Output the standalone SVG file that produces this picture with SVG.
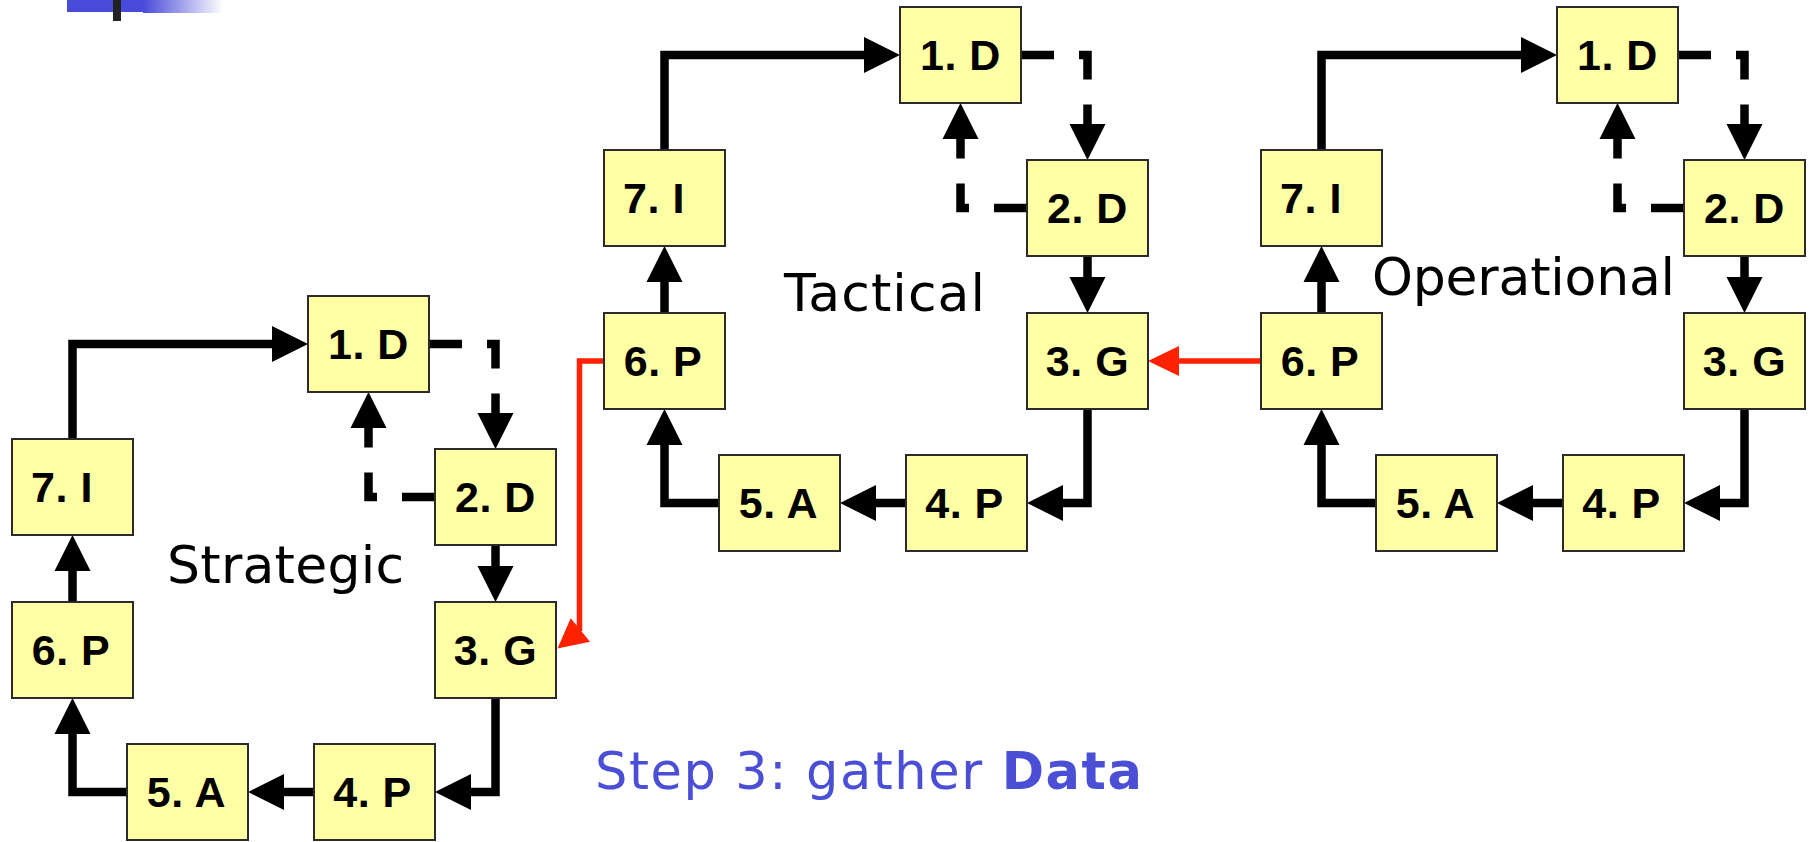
<svg xmlns="http://www.w3.org/2000/svg" width="1809" height="842" viewBox="0 0 1809 842">
  <defs>
    <style>
      .box { fill: #FFFFA6; stroke: #2b2b2b; stroke-width: 2; }
      .lbl { font-family: "Liberation Sans", Arial, sans-serif; font-weight: bold; font-size: 43px; letter-spacing: 0.5px; text-anchor: middle; fill: #000; }
      .conn { fill: none; stroke: #000; stroke-width: 8.5; stroke-linejoin: miter; stroke-linecap: butt; marker-end: url(#ah); }
      .dash { stroke-dasharray: 33 25; }
      .red { fill: none; stroke: #FF2200; stroke-width: 5.5; stroke-linejoin: miter; }
      .title { font-family: "DejaVu Sans", Verdana, sans-serif; font-size: 52px; fill: #000; }
      .step { font-family: "DejaVu Sans", Verdana, sans-serif; font-size: 51px; fill: #4A4FD6; }
    </style>
    <marker id="ah" markerUnits="userSpaceOnUse" markerWidth="36" markerHeight="36" viewBox="0 -18 36 36" refX="0" refY="0" orient="auto" overflow="visible">
      <path d="M0,-18 L36,0 L0,18 z" fill="#000"/>
    </marker>
    <linearGradient id="fade" x1="143" y1="0" x2="223" y2="0" gradientUnits="userSpaceOnUse">
      <stop offset="0" stop-color="#484AD8"/>
      <stop offset="1" stop-color="#484AD8" stop-opacity="0"/>
    </linearGradient>
  </defs>

  <rect width="1809" height="842" fill="#fff"/>

  <!-- top-left decoration -->
  <g id="decoration">
    <rect x="67" y="0" width="77" height="12" fill="#484AD8"/>
    <rect x="143" y="0" width="80" height="13" fill="url(#fade)"/>
    <rect x="113" y="0" width="8" height="21" fill="#222"/>
  </g>

  <!-- connectors -->
  <g id="connectors">
    <g id="strategic-connectors">
      <path class="conn" d="M72.5,439 V344 H272"/>
      <path class="conn dash" d="M429,344 H495.5 V413"/>
      <path class="conn dash" d="M435,497 H368.5 V428"/>
      <path class="conn" d="M495.5,545 V566"/>
      <path class="conn" d="M495.5,698 V792 H471"/>
      <path class="conn" d="M314,792 H284"/>
      <path class="conn" d="M127,792 H72.5 V734"/>
      <path class="conn" d="M72.5,602 V571"/>
    </g>
    <g id="tactical-connectors" transform="translate(592,-289)">
      <path class="conn" d="M72.5,439 V344 H272"/>
      <path class="conn dash" d="M429,344 H495.5 V413"/>
      <path class="conn dash" d="M435,497 H368.5 V428"/>
      <path class="conn" d="M495.5,545 V566"/>
      <path class="conn" d="M495.5,698 V792 H471"/>
      <path class="conn" d="M314,792 H284"/>
      <path class="conn" d="M127,792 H72.5 V734"/>
      <path class="conn" d="M72.5,602 V571"/>
    </g>
    <g id="operational-connectors" transform="translate(1249,-289)">
      <path class="conn" d="M72.5,439 V344 H272"/>
      <path class="conn dash" d="M429,344 H495.5 V413"/>
      <path class="conn dash" d="M435,497 H368.5 V428"/>
      <path class="conn" d="M495.5,545 V566"/>
      <path class="conn" d="M495.5,698 V792 H471"/>
      <path class="conn" d="M314,792 H284"/>
      <path class="conn" d="M127,792 H72.5 V734"/>
      <path class="conn" d="M72.5,602 V571"/>
    </g>
    <g id="red-links">
      <path class="red" d="M604,361 H579.5 V631"/>
      <polygon points="557.5,648.5 570.7,618.3 590,641.7" fill="#FF2200"/>
      <path class="red" d="M1261,361 H1178"/>
      <polygon points="1148,361 1179,346 1179,376" fill="#FF2200"/>
    </g>
  </g>

  <!-- nodes -->
  <g id="strategic">
    <g id="s1"><rect class="box" x="308" y="296" width="121" height="96"/><text class="lbl" x="368.5" y="359">1. D</text></g>
    <g id="s2"><rect class="box" x="435" y="449" width="121" height="96"/><text class="lbl" x="495.5" y="512">2. D</text></g>
    <g id="s3"><rect class="box" x="435" y="602" width="121" height="96"/><text class="lbl" x="495.5" y="665">3. G</text></g>
    <g id="s4"><rect class="box" x="314" y="744" width="121" height="96"/><text class="lbl" x="372.5" y="807">4. P</text></g>
    <g id="s5"><rect class="box" x="127" y="744" width="121" height="96"/><text class="lbl" x="186.5" y="807">5. A</text></g>
    <g id="s6"><rect class="box" x="12" y="602" width="121" height="96"/><text class="lbl" x="71" y="665">6. P</text></g>
    <g id="s7"><rect class="box" x="12" y="439" width="121" height="96"/><text class="lbl" x="62" y="502">7. I</text></g>
  </g>
  <g id="tactical" transform="translate(592,-289)">
    <g id="t1"><rect class="box" x="308" y="296" width="121" height="96"/><text class="lbl" x="368.5" y="359">1. D</text></g>
    <g id="t2"><rect class="box" x="435" y="449" width="121" height="96"/><text class="lbl" x="495.5" y="512">2. D</text></g>
    <g id="t3"><rect class="box" x="435" y="602" width="121" height="96"/><text class="lbl" x="495.5" y="665">3. G</text></g>
    <g id="t4"><rect class="box" x="314" y="744" width="121" height="96"/><text class="lbl" x="372.5" y="807">4. P</text></g>
    <g id="t5"><rect class="box" x="127" y="744" width="121" height="96"/><text class="lbl" x="186.5" y="807">5. A</text></g>
    <g id="t6"><rect class="box" x="12" y="602" width="121" height="96"/><text class="lbl" x="71" y="665">6. P</text></g>
    <g id="t7"><rect class="box" x="12" y="439" width="121" height="96"/><text class="lbl" x="62" y="502">7. I</text></g>
  </g>
  <g id="operational" transform="translate(1249,-289)">
    <g id="o1"><rect class="box" x="308" y="296" width="121" height="96"/><text class="lbl" x="368.5" y="359">1. D</text></g>
    <g id="o2"><rect class="box" x="435" y="449" width="121" height="96"/><text class="lbl" x="495.5" y="512">2. D</text></g>
    <g id="o3"><rect class="box" x="435" y="602" width="121" height="96"/><text class="lbl" x="495.5" y="665">3. G</text></g>
    <g id="o4"><rect class="box" x="314" y="744" width="121" height="96"/><text class="lbl" x="372.5" y="807">4. P</text></g>
    <g id="o5"><rect class="box" x="127" y="744" width="121" height="96"/><text class="lbl" x="186.5" y="807">5. A</text></g>
    <g id="o6"><rect class="box" x="12" y="602" width="121" height="96"/><text class="lbl" x="71" y="665">6. P</text></g>
    <g id="o7"><rect class="box" x="12" y="439" width="121" height="96"/><text class="lbl" x="62" y="502">7. I</text></g>
  </g>

  <!-- labels -->
  <g id="labels">
    <text class="title" x="167" y="583" textLength="237" lengthAdjust="spacing">Strategic</text>
    <text class="title" x="784" y="311" textLength="201" lengthAdjust="spacing">Tactical</text>
    <text class="title" x="1372" y="295" textLength="303" lengthAdjust="spacing">Operational</text>
    <text class="step" x="595" y="789" textLength="547" lengthAdjust="spacing">Step 3:  gather <tspan font-weight="bold">Data</tspan></text>
  </g>
</svg>
